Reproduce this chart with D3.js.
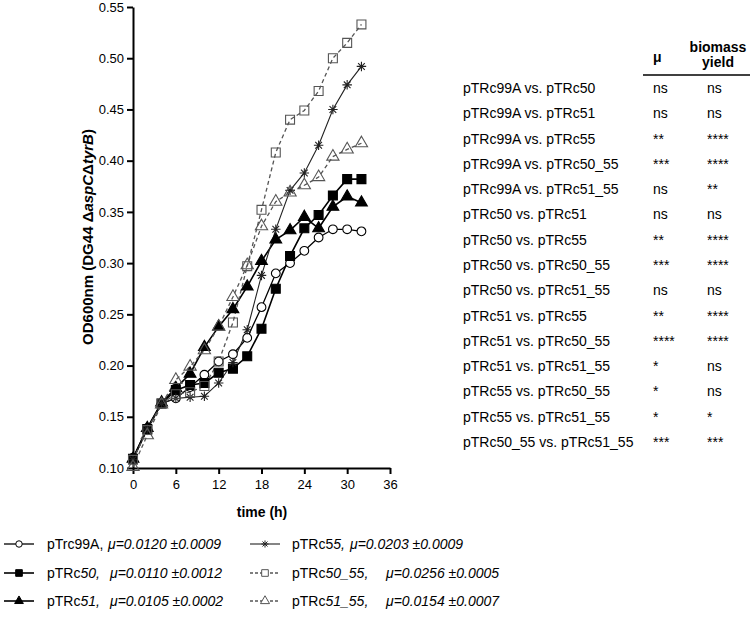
<!DOCTYPE html>
<html>
<head>
<meta charset="utf-8">
<script src="https://cdn.jsdelivr.net/npm/d3@7"></script>
<style>
  body { margin: 0; background: #fff; }
  text { font-family: "Liberation Sans", Arial, sans-serif; }
</style>
</head>
<body>
<script>
const W = 750, H = 618;

// time points (h)
const hours = [0, 2, 4, 6, 8, 10, 12, 14, 16, 18, 20, 22, 24, 26, 28, 30, 32];

// OD600 values per strain
const pTrc99A   = [0.110, 0.139, 0.163, 0.168, 0.179, 0.191, 0.204, 0.211, 0.227, 0.257, 0.290, 0.300, 0.312, 0.325, 0.333, 0.333, 0.331];
const pTRc50    = [0.109, 0.138, 0.163, 0.176, 0.181, 0.183, 0.193, 0.197, 0.209, 0.236, 0.275, 0.307, 0.334, 0.347, 0.366, 0.382, 0.382];
const pTRc51    = [0.109, 0.139, 0.164, 0.178, 0.192, 0.218, 0.238, 0.255, 0.277, 0.302, 0.323, 0.332, 0.345, 0.334, 0.355, 0.365, 0.359];
const pTRc55    = [0.108, 0.138, 0.163, 0.168, 0.169, 0.170, 0.183, 0.203, 0.235, 0.288, 0.333, 0.371, 0.388, 0.415, 0.450, 0.474, 0.492];
const pTRc50_55 = [0.108, 0.137, 0.163, 0.172, 0.174, 0.180, 0.204, 0.242, 0.297, 0.352, 0.408, 0.440, 0.449, 0.468, 0.500, 0.515, 0.533];
const pTRc51_55 = [0.101, 0.132, 0.162, 0.186, 0.199, 0.215, 0.238, 0.267, 0.298, 0.336, 0.360, 0.369, 0.376, 0.384, 0.404, 0.411, 0.417];

const xTicks = [0, 6, 12, 18, 24, 30, 36];
const yTicks = [0.10, 0.15, 0.20, 0.25, 0.30, 0.35, 0.40, 0.45, 0.50, 0.55];

// legend: name parts (regular, italic) and growth rate text
const legendNames = [["pTrc99A,", ""], ["pTRc", "50,"], ["pTRc", "51,"], ["pTRc5", "5,"], ["pTRc", "50_55,"], ["pTRc", "51_55,"]];
const legendRates = ["μ=0.0120 ±0.0009", "μ=0.0110 ±0.0012", "μ=0.0105 ±0.0002", "μ=0.0203 ±0.0009", "μ=0.0256 ±0.0005", "μ=0.0154 ±0.0007"];

// statistics table
const comparisons = ["pTRc99A vs. pTRc50", "pTRc99A vs. pTRc51", "pTRc99A vs. pTRc55", "pTRc99A vs. pTRc50_55", "pTRc99A vs. pTRc51_55",
  "pTRc50 vs. pTRc51", "pTRc50 vs. pTRc55", "pTRc50 vs. pTRc50_55", "pTRc50 vs. pTRc51_55",
  "pTRc51 vs. pTRc55", "pTRc51 vs. pTRc50_55", "pTRc51 vs. pTRc51_55",
  "pTRc55 vs. pTRc50_55", "pTRc55 vs. pTRc51_55", "pTRc50_55 vs. pTRc51_55"];
const sigMu      = ["ns", "ns", "**", "***", "ns", "ns", "**", "***", "ns", "**", "****", "*", "*", "*", "***"];
const sigBiomass = ["ns", "ns", "****", "****", "**", "ns", "****", "****", "ns", "****", "****", "ns", "ns", "*", "***"];

// 8-armed star marker
const symbolStar8 = {
  draw(ctx, size) {
    const r = Math.sqrt(size) / 2, d = r * Math.SQRT1_2;
    ctx.moveTo(-r, 0); ctx.lineTo(r, 0);
    ctx.moveTo(0, -r); ctx.lineTo(0, r);
    ctx.moveTo(-d, -d); ctx.lineTo(d, d);
    ctx.moveTo(-d, d); ctx.lineTo(d, -d);
  }
};

const series = [
  {vals: pTrc99A,   sym: d3.symbolCircle,   size: 60, fill: "#fff", stroke: "#000", dash: null,  lw: 1.3},
  {vals: pTRc50,    sym: d3.symbolSquare,   size: 80, fill: "#000", stroke: "#000", dash: null,  lw: 1.6},
  {vals: pTRc51,    sym: d3.symbolTriangle, size: 60, fill: "#000", stroke: "#000", dash: null,  lw: 1.6},
  {vals: pTRc55,    sym: symbolStar8,       size: 90, fill: "none", stroke: "#222", dash: null,  lw: 1.1},
  {vals: pTRc50_55, sym: d3.symbolSquare,   size: 80, fill: "none", stroke: "#555", dash: "4,3", lw: 1.3},
  {vals: pTRc51_55, sym: d3.symbolTriangle, size: 65, fill: "none", stroke: "#555", dash: "4,3", lw: 1.3}
];

const svg = d3.select("body").append("svg").attr("width", W).attr("height", H);

const x = d3.scaleLinear().domain([0, 36]).range([133, 390]);
const y = d3.scaleLinear().domain([0.10, 0.55]).range([468, 7]);

// axes
const gy = svg.append("g").attr("transform", "translate(133,0)")
  .call(d3.axisLeft(y).tickValues(yTicks).tickFormat(d3.format(".2f")).tickSize(6).tickSizeOuter(0));
const gx = svg.append("g").attr("transform", "translate(0,468)")
  .call(d3.axisBottom(x).tickValues(xTicks).tickSize(6).tickSizeOuter(0));
[gx, gy].forEach(g => {
  g.select(".domain").attr("stroke-width", 2);
  g.selectAll(".tick line").attr("stroke-width", 2);
  g.selectAll(".tick text").attr("font-size", 13).attr("font-family", "Liberation Sans, Arial, sans-serif").attr("fill", "#000");
});
gx.selectAll(".tick text").attr("dy", "0.9em");

// axis titles
svg.append("text").attr("x", 262).attr("y", 517).attr("text-anchor", "middle")
  .attr("font-size", 14).attr("font-weight", "bold").text("time (h)");
const yt = svg.append("text").attr("transform", "translate(93,237) rotate(-90)")
  .attr("text-anchor", "middle").attr("font-size", 15).attr("font-weight", "bold");
yt.append("tspan").text("OD600nm (DG44 Δ");
yt.append("tspan").attr("font-style", "italic").text("aspC");
yt.append("tspan").text("Δ");
yt.append("tspan").attr("font-style", "italic").text("tyrB");
yt.append("tspan").text(")");

// lines and markers
const line = d3.line().x((d, i) => x(hours[i])).y(d => y(d));
series.forEach(s => {
  svg.append("path").attr("d", line(s.vals)).attr("fill", "none")
    .attr("stroke", s.stroke).attr("stroke-width", s.lw).attr("stroke-dasharray", s.dash);
});
series.forEach(s => {
  svg.selectAll(null).data(s.vals).enter().append("path")
    .attr("transform", (d, i) => `translate(${x(hours[i])},${y(d)})`)
    .attr("d", d3.symbol(s.sym, s.size))
    .attr("fill", s.fill).attr("stroke", s.stroke).attr("stroke-width", 1.1);
});

// legend
const legRowY = [549, 578, 606];
const rateX = [108, 110, 110, 350, 386, 386];
series.forEach((s, i) => {
  const col = Math.floor(i / 3), row = i % 3;
  const lx = col === 0 ? 4 : 250, ty = legRowY[row];
  svg.append("line").attr("x1", lx).attr("x2", lx + 30).attr("y1", ty - 5).attr("y2", ty - 5)
    .attr("stroke", s.stroke).attr("stroke-width", s.lw).attr("stroke-dasharray", s.dash ? "3,2" : null);
  svg.append("path").attr("transform", `translate(${lx + 15},${ty - 5})`)
    .attr("d", d3.symbol(s.sym, s.size * 0.55)).attr("fill", s.fill === "none" && s.dash ? "#fff" : s.fill)
    .attr("stroke", s.stroke).attr("stroke-width", 1);
  const t = svg.append("text").attr("x", col === 0 ? 47 : 292).attr("y", ty).attr("font-size", 14);
  t.append("tspan").text(legendNames[i][0]);
  t.append("tspan").attr("font-style", "italic").text(legendNames[i][1]);
  svg.append("text").attr("x", rateX[i]).attr("y", ty)
    .attr("font-size", 14).attr("font-style", "italic").text(legendRates[i]);
});

// statistics table
svg.append("text").attr("x", 653).attr("y", 62).attr("font-size", 14).attr("font-weight", "bold").text("μ");
svg.append("text").attr("x", 718).attr("y", 52).attr("text-anchor", "middle").attr("font-size", 14).attr("font-weight", "bold").text("biomass");
svg.append("text").attr("x", 718).attr("y", 67).attr("text-anchor", "middle").attr("font-size", 14).attr("font-weight", "bold").text("yield");
svg.append("line").attr("x1", 643).attr("x2", 750).attr("y1", 75).attr("y2", 75).attr("stroke", "#000").attr("stroke-width", 1.5);

const rowY = d3.scaleLinear().domain([0, comparisons.length - 1]).range([93, 447]);
comparisons.forEach((c, i) => {
  svg.append("text").attr("x", 463).attr("y", rowY(i)).attr("font-size", 14).text(c);
  svg.append("text").attr("x", 653).attr("y", rowY(i)).attr("font-size", 14).text(sigMu[i]);
  svg.append("text").attr("x", 707).attr("y", rowY(i)).attr("font-size", 14).text(sigBiomass[i]);
});
</script>
</body>
</html>
